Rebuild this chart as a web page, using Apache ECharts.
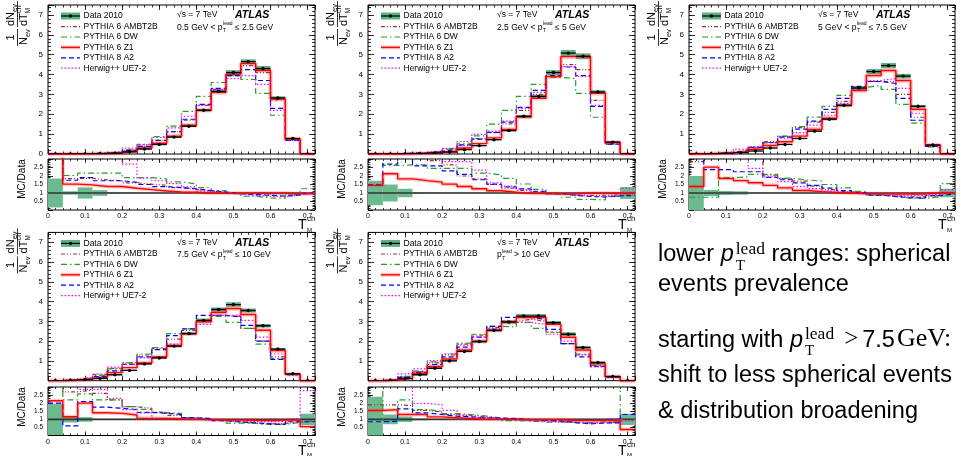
<!DOCTYPE html>
<html>
<head>
<meta charset="utf-8">
<title>Transverse thrust minor distributions</title>
<script src="https://cdn.jsdelivr.net/npm/echarts@6/dist/echarts.min.js"></script>
<style>
  html, body { margin: 0; padding: 0; background: #ffffff; }
  #chart { width: 961px; height: 456px; }
</style>
</head>
<body>
<div id="chart"></div>
<script>
// ---------- binning and labels ----------
const binEdges = [0, 0.04, 0.08, 0.12, 0.16, 0.2, 0.24, 0.28, 0.32, 0.36, 0.4, 0.44, 0.48, 0.52, 0.56, 0.6, 0.64, 0.68, 0.72];
const mcNames = ['PYTHIA 6 AMBT2B', 'PYTHIA 6 DW', 'PYTHIA 6 Z1', 'PYTHIA 8 A2', 'Herwig++ UE7-2'];
const dataName = 'Data 2010';
const rangePrefix = ['0.5 GeV < ', '2.5 GeV < ', '5 GeV < ', '7.5 GeV < ', ''];
const rangeSuffix = [' \u2264 2.5 GeV', ' \u2264 5 GeV', ' \u2264 7.5 GeV', ' \u2264 10 GeV', ' > 10 GeV'];

// ---------- 0.5 GeV < pT(lead) <= 2.5 GeV ----------
const data1 = [0, 0, 0.01, 0.02, 0.04, 0.11, 0.25, 0.48, 0.85, 1.40, 2.20, 3.15, 4.10, 4.65, 4.30, 2.82, 0.78, 0];
const err1 = [0.85, 0.10, 0.33, 0.17, 0.05, 0.04, 0.03, 0.03, 0.03, 0.03, 0.03, 0.03, 0.03, 0.025, 0.03, 0.03, 0.04, 0];
const ambt1 = [0, 0, 0.02, 0.035, 0.07, 0.18, 0.38, 0.70, 1.12, 1.70, 2.45, 3.25, 4.00, 4.45, 4.10, 2.72, 0.72, 0];
const dw1 = [0, 0, 0.02, 0.045, 0.09, 0.21, 0.48, 0.88, 1.40, 2.15, 2.90, 3.60, 3.95, 3.75, 3.05, 1.95, 0.70, 0];
const z1_1 = [0, 0, 0.015, 0.028, 0.055, 0.14, 0.30, 0.54, 0.90, 1.45, 2.20, 3.10, 4.02, 4.55, 4.20, 2.76, 0.75, 0];
const a2_1 = [0, 0, 0.019, 0.034, 0.069, 0.18, 0.38, 0.68, 1.12, 1.75, 2.50, 3.30, 3.95, 4.25, 3.70, 2.30, 0.68, 0];
const hw1 = [0, 0, 0.03, 0.06, 0.12, 0.30, 0.47, 0.83, 1.32, 1.90, 2.45, 3.25, 3.80, 3.95, 3.50, 2.20, 0.68, 0];
const rAmbt1 = [3.5, 1.85, 1.87, 1.77, 1.72, 1.60, 1.52, 1.45, 1.32, 1.21, 1.11, 1.03, 0.98, 0.96, 0.95, 0.96, 0.92, 1.0];
const rDw1 = [3.5, 2.03, 2.17, 2.17, 2.17, 1.90, 1.90, 1.83, 1.65, 1.54, 1.32, 1.14, 0.96, 0.81, 0.71, 0.69, 0.90, 1.25];
const rZ1_1 = [3.5, 1.52, 1.48, 1.38, 1.38, 1.28, 1.20, 1.12, 1.06, 1.04, 1.00, 0.98, 0.98, 0.98, 0.98, 0.98, 0.96, 0.95];
const rA2_1 = [3.5, 1.75, 1.90, 1.72, 1.72, 1.63, 1.50, 1.38, 1.32, 1.25, 1.14, 1.05, 0.96, 0.91, 0.86, 0.82, 0.87, 1.0];
const rHw1 = [3.5, 3.5, 3.5, 3.5, 3.5, 2.70, 1.87, 1.72, 1.55, 1.36, 1.11, 1.03, 0.93, 0.85, 0.81, 0.78, 0.87, 1.0];

// ---------- 2.5 GeV < pT(lead) <= 5 GeV ----------
const data2 = [0, 0, 0.01, 0.02, 0.05, 0.10, 0.22, 0.42, 0.72, 1.18, 1.90, 2.90, 4.10, 5.08, 4.92, 3.12, 0.60, 0];
const err2 = [0.72, 0.50, 0.25, 0.05, 0.04, 0.03, 0.03, 0.03, 0.03, 0.03, 0.03, 0.03, 0.03, 0.03, 0.03, 0.03, 0.05, 0.35];
const ambt2 = [0, 0, 0.04, 0.07, 0.14, 0.27, 0.44, 0.77, 1.08, 1.52, 2.20, 3.00, 3.90, 4.50, 4.25, 2.70, 0.52, 0];
const dw2 = [0, 0, 0.027, 0.053, 0.12, 0.25, 0.54, 0.91, 1.50, 2.20, 2.90, 3.50, 3.85, 3.80, 3.05, 1.85, 0.48, 0];
const z1_2 = [0, 0, 0.018, 0.035, 0.082, 0.15, 0.30, 0.52, 0.81, 1.23, 1.86, 2.80, 3.90, 4.90, 4.88, 3.05, 0.58, 0];
const a2_2 = [0, 0, 0.04, 0.052, 0.13, 0.23, 0.46, 0.75, 1.09, 1.60, 2.35, 3.20, 3.95, 4.38, 3.95, 2.40, 0.50, 0];
const hw2 = [0, 0, 0.04, 0.07, 0.15, 0.285, 0.63, 0.99, 1.15, 1.65, 2.30, 3.10, 3.90, 4.40, 3.90, 2.45, 0.52, 0];
const rAmbt2 = [3.5, 3.5, 3.5, 3.5, 2.90, 2.65, 2.00, 1.83, 1.50, 1.29, 1.16, 1.03, 0.95, 0.89, 0.86, 0.87, 0.87, 0.9];
const rDw2 = [3.5, 2.62, 2.65, 2.65, 2.45, 2.45, 2.45, 2.17, 2.07, 1.86, 1.53, 1.21, 0.94, 0.75, 0.62, 0.59, 0.80, 1.0];
const rZ1_2 = [1.45, 2.13, 1.83, 1.73, 1.64, 1.52, 1.38, 1.25, 1.13, 1.04, 0.98, 0.97, 0.95, 0.96, 0.99, 0.98, 0.97, 1.0];
const rA2_2 = [1.48, 2.70, 3.5, 2.60, 2.60, 2.30, 2.10, 1.78, 1.52, 1.36, 1.24, 1.10, 0.96, 0.86, 0.80, 0.77, 0.83, 0.85];
const rHw2 = [3.5, 3.5, 3.5, 3.5, 3.5, 2.85, 2.85, 2.35, 1.60, 1.40, 1.22, 1.07, 0.95, 0.87, 0.80, 0.79, 0.87, 1.28];

// ---------- 5 GeV < pT(lead) <= 7.5 GeV ----------
const data3 = [0, 0.01, 0.03, 0.07, 0.15, 0.30, 0.48, 0.78, 1.15, 1.75, 2.45, 3.32, 4.15, 4.45, 3.92, 2.40, 0.45, 0];
const err3 = [1.0, 0.18, 0.12, 0.10, 0.04, 0.03, 0.03, 0.03, 0.03, 0.03, 0.03, 0.03, 0.03, 0.03, 0.03, 0.03, 0.05, 0.25];
const ambt3 = [0, 0.03, 0.09, 0.18, 0.33, 0.62, 0.89, 1.33, 1.60, 2.10, 2.65, 3.35, 3.65, 3.65, 3.00, 1.85, 0.38, 0];
const dw3 = [0, 0.008, 0.057, 0.14, 0.31, 0.56, 0.90, 1.38, 1.86, 2.40, 2.95, 3.35, 3.45, 3.25, 2.50, 1.55, 0.36, 0];
const z1_3 = [0, 0.025, 0.055, 0.12, 0.24, 0.43, 0.62, 0.90, 1.24, 1.80, 2.45, 3.20, 3.95, 4.20, 3.70, 2.25, 0.45, 0];
const a2_3 = [0, 0.024, 0.071, 0.16, 0.34, 0.58, 0.85, 1.25, 1.65, 2.25, 2.80, 3.40, 3.65, 3.55, 2.80, 1.70, 0.38, 0];
const hw3 = [0, 0.04, 0.11, 0.25, 0.37, 0.58, 0.80, 1.08, 1.45, 1.95, 2.55, 3.30, 3.70, 3.80, 3.30, 2.05, 0.42, 0];
const rAmbt3 = [2.85, 3.5, 3.5, 3.5, 3.5, 2.05, 1.85, 1.70, 1.40, 1.20, 1.08, 1.01, 0.88, 0.82, 0.77, 0.77, 0.85, 1.0];
const rDw3 = [0.75, 0.75, 1.90, 1.95, 2.10, 2.10, 1.87, 1.77, 1.70, 1.50, 1.30, 1.10, 0.90, 0.79, 0.70, 0.68, 0.78, 1.55];
const rZ1_3 = [1.38, 2.52, 1.85, 1.73, 1.60, 1.45, 1.30, 1.15, 1.08, 1.03, 1.00, 0.96, 0.95, 0.94, 0.94, 0.94, 1.0, 1.0];
const rA2_3 = [3.5, 2.38, 2.38, 2.25, 2.25, 1.92, 1.78, 1.60, 1.45, 1.29, 1.14, 1.02, 0.88, 0.80, 0.72, 0.71, 0.84, 0.95];
const rHw3 = [3.5, 3.5, 3.5, 3.5, 2.45, 1.95, 1.67, 1.38, 1.26, 1.11, 1.04, 0.99, 0.89, 0.85, 0.84, 0.85, 0.93, 1.2];

// ---------- 7.5 GeV < pT(lead) <= 10 GeV ----------
const data4 = [0, 0.02, 0.05, 0.12, 0.30, 0.52, 0.85, 1.15, 1.75, 2.38, 3.05, 3.60, 3.85, 3.55, 2.78, 1.60, 0.35, 0];
const err4 = [0.97, 0.20, 0.15, 0.04, 0.03, 0.03, 0.03, 0.03, 0.03, 0.03, 0.03, 0.03, 0.03, 0.03, 0.03, 0.03, 0.05, 0.35];
const ambt4 = [0, 0.054, 0.14, 0.31, 0.62, 0.91, 1.30, 1.62, 2.10, 2.55, 3.00, 3.30, 3.25, 2.65, 2.00, 1.20, 0.30, 0];
const dw4 = [0, 0.044, 0.13, 0.26, 0.60, 0.90, 1.35, 1.68, 2.38, 2.62, 3.05, 3.25, 2.95, 2.65, 1.85, 1.12, 0.30, 0];
const z1_4 = [0, 0.023, 0.10, 0.17, 0.41, 0.66, 0.90, 1.20, 1.78, 2.38, 2.98, 3.45, 3.65, 3.35, 2.55, 1.52, 0.33, 0];
const a2_4 = [0, 0.012, 0.105, 0.21, 0.50, 0.83, 1.20, 1.57, 2.28, 2.62, 3.30, 3.30, 3.22, 2.80, 2.00, 1.08, 0.30, 0];
const hw4 = [0, 0.07, 0.15, 0.34, 0.69, 0.83, 1.15, 1.25, 1.85, 2.40, 2.85, 3.30, 3.32, 3.05, 2.20, 1.35, 0.30, 0];
const rAmbt4 = [3.5, 2.70, 2.80, 2.60, 2.20, 1.78, 1.68, 1.45, 1.25, 1.07, 0.98, 0.92, 0.85, 0.75, 0.72, 0.75, 0.85, 0.9];
const rDw4 = [3.5, 2.20, 2.57, 2.20, 2.20, 1.78, 1.62, 1.41, 1.37, 1.10, 1.00, 0.90, 0.77, 0.75, 0.67, 0.70, 0.80, 0.9];
const rZ1_4 = [2.15, 1.16, 2.00, 1.41, 1.37, 1.27, 1.06, 1.05, 1.02, 1.00, 0.98, 0.96, 0.95, 0.94, 0.92, 0.95, 0.95, 0.55];
const rA2_4 = [2.00, 0.60, 2.10, 1.75, 1.68, 1.60, 1.43, 1.37, 1.30, 1.10, 1.05, 0.92, 0.84, 0.79, 0.72, 0.68, 0.85, 0.85];
const rHw4 = [3.5, 3.5, 2.85, 2.85, 2.30, 1.60, 1.40, 1.06, 1.05, 1.00, 0.95, 0.90, 0.88, 0.86, 0.85, 0.88, 0.85, 2.77];

// ---------- pT(lead) > 10 GeV ----------
const data5 = [0, 0.02, 0.10, 0.30, 0.63, 1.00, 1.48, 1.98, 2.55, 2.97, 3.27, 3.27, 2.93, 2.35, 1.68, 0.92, 0.22, 0];
const err5 = [1.4, 0.30, 0.17, 0.05, 0.04, 0.03, 0.03, 0.03, 0.03, 0.03, 0.03, 0.03, 0.03, 0.04, 0.04, 0.04, 0.06, 0.35];
const ambt5 = [0, 0.04, 0.185, 0.46, 0.90, 1.30, 1.85, 2.30, 2.70, 3.00, 3.10, 3.00, 2.45, 1.88, 1.30, 0.72, 0.18, 0];
const dw5 = [0, 0.018, 0.22, 0.48, 0.95, 1.35, 1.90, 2.35, 2.75, 2.72, 2.95, 2.65, 2.45, 1.88, 1.35, 0.78, 0.19, 0];
const z1_5 = [0, 0.032, 0.13, 0.38, 0.72, 1.10, 1.55, 2.00, 2.55, 2.95, 3.20, 3.20, 2.85, 2.20, 1.55, 0.85, 0.20, 0];
const a2_5 = [0, 0.018, 0.165, 0.42, 0.82, 1.20, 1.70, 2.20, 2.75, 3.20, 3.20, 3.10, 2.60, 1.88, 1.20, 0.72, 0.17, 0];
const hw5 = [0, 0.07, 0.35, 0.60, 1.02, 1.35, 1.80, 2.20, 2.65, 2.95, 2.95, 2.85, 2.35, 2.00, 1.32, 0.70, 0.20, 0];
const rAmbt5 = [1.90, 1.90, 1.85, 1.55, 1.45, 1.30, 1.25, 1.15, 1.05, 1.00, 0.95, 0.92, 0.85, 0.80, 0.78, 0.78, 0.80, 1.0];
const rDw5 = [3.5, 0.90, 2.20, 1.60, 1.50, 1.35, 1.30, 1.20, 1.08, 0.92, 0.90, 0.82, 0.85, 0.80, 0.80, 0.85, 0.85, 3.5];
const rZ1_5 = [1.55, 1.60, 1.30, 1.30, 1.15, 1.10, 1.05, 1.00, 1.00, 0.99, 0.98, 0.98, 0.97, 0.93, 0.92, 0.92, 0.90, 0.37];
const rA2_5 = [0.85, 0.88, 1.65, 1.40, 1.30, 1.20, 1.15, 1.10, 1.08, 1.05, 0.98, 0.95, 0.90, 0.80, 0.72, 0.78, 0.78, 1.30];
const rHw5 = [3.5, 3.5, 3.5, 1.98, 1.90, 1.55, 1.25, 1.10, 1.05, 1.00, 0.90, 0.87, 0.82, 0.85, 0.78, 0.80, 1.05, 0.9];

const panels = [
  { data: data1, err: err1, mc: [ambt1, dw1, z1_1, a2_1, hw1], ratio: [rAmbt1, rDw1, rZ1_1, rA2_1, rHw1] },
  { data: data2, err: err2, mc: [ambt2, dw2, z1_2, a2_2, hw2], ratio: [rAmbt2, rDw2, rZ1_2, rA2_2, rHw2] },
  { data: data3, err: err3, mc: [ambt3, dw3, z1_3, a2_3, hw3], ratio: [rAmbt3, rDw3, rZ1_3, rA2_3, rHw3] },
  { data: data4, err: err4, mc: [ambt4, dw4, z1_4, a2_4, hw4], ratio: [rAmbt4, rDw4, rZ1_4, rA2_4, rHw4] },
  { data: data5, err: err5, mc: [ambt5, dw5, z1_5, a2_5, hw5], ratio: [rAmbt5, rDw5, rZ1_5, rA2_5, rHw5] }
];

// ---------- styling and frame placement ----------
const SANS = '"Liberation Sans", Arial, Helvetica, sans-serif';
const SERIF = '"Liberation Serif", "Times New Roman", serif';
const BAND = '#6cbb90';
const BAND_MAIN = '#5cb285';
const mcStyles = [
  { color: '#9b3434', width: 1.2, dash: [4, 2, 1, 2, 1, 2] },
  { color: '#22a022', width: 1.2, dash: [6, 3, 1.5, 3] },
  { color: '#ff0000', width: 1.4, dash: null },
  { color: '#0000ff', width: 1.2, dash: [5, 3] },
  { color: '#ff00ff', width: 1.2, dash: [1.5, 2] }
];
const frames = [
  { left: 48, width: 267, top: 5, height: 149, rTop: 159, rHeight: 51 },
  { left: 368, width: 267, top: 5, height: 149, rTop: 159, rHeight: 51 },
  { left: 689, width: 266, top: 5, height: 149, rTop: 159, rHeight: 51 },
  { left: 48, width: 267, top: 232.4, height: 148.3, rTop: 387, rHeight: 48.5 },
  { left: 368, width: 267, top: 232.4, height: 148.3, rTop: 387, rHeight: 48.5 }
];

// ---------- text layout helpers ----------
const mctx = document.createElement('canvas').getContext('2d');
function fontOf(pt) {
  return (pt.italic ? 'italic ' : '') + (pt.bold ? 'bold ' : '') + pt.size + 'px ' + (pt.family || SANS);
}
function textEl(x, y, text, size, o) {
  o = o || {};
  return {
    type: 'text', x: x, y: y, silent: true,
    style: {
      text: text, fontSize: size, fontFamily: o.family || SANS,
      fontStyle: o.italic ? 'italic' : 'normal', fontWeight: o.bold ? 'bold' : 'normal',
      fill: o.fill || '#000', align: 'left', verticalAlign: 'middle',
      textAlign: 'left', textVerticalAlign: 'middle'
    }
  };
}
// Lays out runs of text along a common baseline; a run may stack a superscript over a subscript.
function runText(out, x, base, runs) {
  let cx = x;
  runs.forEach(function (r) {
    const parts = r.stack || [r];
    let w = 0;
    parts.forEach(function (pt) {
      out.push(textEl(cx, base + (pt.dy || 0) - 0.345 * pt.size, pt.text, pt.size,
        { family: pt.family, italic: pt.italic, bold: pt.bold }));
      mctx.font = fontOf(pt);
      w = Math.max(w, mctx.measureText(pt.text).width);
    });
    cx += w + (r.gap || 0);
  });
  return cx;
}
function textWidth(pt) { mctx.font = fontOf(pt); return mctx.measureText(pt.text).width; }

// ---------- axes ----------
function makeAxes(dim, gridIndex, cfg) {
  const positions = dim === 'x' ? ['bottom', 'top'] : ['left', 'right'];
  const out = [];
  positions.forEach(function (pos, k) {
    [[cfg.major, cfg.majorLen, k === 0 ? cfg.label : null], [cfg.minor, cfg.minorLen, null]].forEach(function (spec) {
      out.push({
        type: 'value', gridIndex: gridIndex, position: pos,
        min: cfg.min, max: cfg.max, interval: spec[0],
        axisLine: { show: false, onZero: false },
        splitLine: { show: false },
        axisTick: { show: true, inside: true, length: spec[1], lineStyle: { color: '#000', width: 0.8 } },
        axisLabel: spec[2] ? Object.assign({ show: true, color: '#000', fontFamily: SANS }, spec[2]) : { show: false },
        axisPointer: { show: false },
        silent: true
      });
    });
  });
  return out;
}
function isMult(v, step) { return Math.abs(v / step - Math.round(v / step)) < 1e-6; }

// ---------- series builders ----------
function stepSeries(xi, yi, values, style, z, extra) {
  const pts = binEdges.map(function (e, i) { return [e, values[Math.min(i, values.length - 1)]]; });
  return Object.assign({
    type: 'line', xAxisIndex: xi, yAxisIndex: yi, step: 'end', data: pts,
    symbol: 'none', silent: true, clip: true, z: z,
    lineStyle: { color: style.color, width: style.width, type: style.dash || 'solid' }
  }, extra || {});
}
function bandSeries(xi, yi, lows, highs, color) {
  return {
    type: 'custom', xAxisIndex: xi, yAxisIndex: yi, silent: true, clip: true, z: 1,
    data: lows.map(function (lo, i) { return [binEdges[i], binEdges[i + 1], lo, highs[i]]; }),
    encode: { x: [0, 1], y: [2, 3] },
    renderItem: function (params, api) {
      const a = api.coord([api.value(0), api.value(3)]);
      const b = api.coord([api.value(1), api.value(2)]);
      return { type: 'rect', shape: { x: a[0], y: a[1], width: b[0] - a[0], height: b[1] - a[1] }, style: { fill: color } };
    }
  };
}
function dataSeries(xi, yi, values) {
  return {
    type: 'custom', xAxisIndex: xi, yAxisIndex: yi, silent: true, clip: true, z: 10,
    data: values.map(function (v, i) { return [binEdges[i], binEdges[i + 1], v]; }),
    encode: { x: [0, 1], y: 2 },
    renderItem: function (params, api) {
      const a = api.coord([api.value(0), api.value(2)]);
      const b = api.coord([api.value(1), api.value(2)]);
      return {
        type: 'group', children: [
          { type: 'line', shape: { x1: a[0], y1: a[1], x2: b[0], y2: b[1] }, style: { stroke: '#000', lineWidth: 1.3 } },
          { type: 'circle', shape: { cx: (a[0] + b[0]) / 2, cy: a[1], r: 1.7 }, style: { fill: '#000' } }
        ]
      };
    }
  };
}

// ---------- assemble ----------
const grids = [], xAxes = [], yAxes = [], series = [], graphics = [];

frames.forEach(function (F, p) {
  const P = panels[p];
  const gMain = grids.length;
  grids.push({ left: F.left, top: F.top, width: F.width, height: F.height, show: true, borderColor: '#000', borderWidth: 1, backgroundColor: 'transparent' });
  grids.push({ left: F.left, top: F.rTop, width: F.width, height: F.rHeight, show: true, borderColor: '#000', borderWidth: 1, backgroundColor: 'transparent' });
  const gRatio = gMain + 1;

  const xMainBase = xAxes.length;
  xAxes.push.apply(xAxes, makeAxes('x', gMain, { min: 0, max: 0.72, major: 0.1, minor: 0.02, majorLen: 5, minorLen: 2.5, label: null }));
  const xRatioBase = xAxes.length;
  xAxes.push.apply(xAxes, makeAxes('x', gRatio, {
    min: 0, max: 0.72, major: 0.1, minor: 0.02, majorLen: 4, minorLen: 2,
    label: { fontSize: 7, margin: 3, formatter: function (v) { return (isMult(v, 0.1) && v < 0.705) ? (v < 0.05 ? '0' : v.toFixed(1)) : ''; } }
  }));
  const yMainBase = yAxes.length;
  yAxes.push.apply(yAxes, makeAxes('y', gMain, {
    min: 0, max: 7.5, major: 1, minor: 0.2, majorLen: 6, minorLen: 3,
    label: { fontSize: 8, margin: 5, formatter: function (v) { return (isMult(v, 1) && (v > 0.5 || p === 0) && v < 7.4) ? String(Math.round(v)) : ''; } }
  }));
  const yRatioBase = yAxes.length;
  yAxes.push.apply(yAxes, makeAxes('y', gRatio, {
    min: 0, max: 3, major: 0.5, minor: 0.1, majorLen: 5, minorLen: 2.5,
    label: { fontSize: 6.5, margin: 5, formatter: function (v) { return (v > 0.1 && v < 2.9) ? String(v) : ''; } }
  }));

  // main distribution
  series.push(bandSeries(xMainBase, yMainBase,
    P.data.map(function (v, i) { return v * (1 - P.err[i]); }),
    P.data.map(function (v, i) { return v * (1 + P.err[i]); }), BAND_MAIN));
  series.push(stepSeries(xMainBase, yMainBase, P.mc[2], { color: 'rgba(255,60,60,0.28)', width: 4.5 }, 2));
  P.mc.forEach(function (vals, k) {
    series.push(stepSeries(xMainBase, yMainBase, vals, mcStyles[k], k === 2 ? 6 : 3 + k * 0.1));
  });
  series.push(dataSeries(xMainBase, yMainBase, P.data));

  // MC / data ratio
  series.push(bandSeries(xRatioBase, yRatioBase,
    P.err.map(function (e) { return 1 - e; }),
    P.err.map(function (e) { return 1 + e; }), BAND));
  series.push({
    type: 'line', xAxisIndex: xRatioBase, yAxisIndex: yRatioBase, silent: true, symbol: 'none', z: 2,
    data: [[binEdges[0], 1], [binEdges[binEdges.length - 1], 1]],
    lineStyle: { color: '#333333', width: 1.6 }
  });
  series.push(stepSeries(xRatioBase, yRatioBase, P.ratio[2], { color: 'rgba(255,60,60,0.28)', width: 4 }, 3));
  P.ratio.forEach(function (vals, k) {
    series.push(stepSeries(xRatioBase, yRatioBase, vals, mcStyles[k], k === 2 ? 6 : 4 + k * 0.1));
  });

  // legend
  const L = F.left, T = F.top;
  graphics.push({ type: 'rect', silent: true, shape: { x: L + 13, y: T + 7.5, width: 19, height: 7 }, style: { fill: BAND_MAIN } });
  graphics.push({ type: 'line', silent: true, shape: { x1: L + 13, y1: T + 11, x2: L + 32, y2: T + 11 }, style: { stroke: '#000', lineWidth: 1.2 } });
  graphics.push({ type: 'circle', silent: true, shape: { cx: L + 22.5, cy: T + 11, r: 1.7 }, style: { fill: '#000' } });
  runText(graphics, L + 35.5, T + 14, [{ text: dataName, size: 8.5 }]);
  mcNames.forEach(function (name, k) {
    const y = T + 21.6 + 10.4 * k;
    const st = mcStyles[k];
    if (k === 2) {
      graphics.push({ type: 'line', silent: true, shape: { x1: L + 13, y1: y, x2: L + 32, y2: y }, style: { stroke: 'rgba(255,60,60,0.3)', lineWidth: 4 } });
    }
    graphics.push({ type: 'line', silent: true, shape: { x1: L + 13, y1: y, x2: L + 32, y2: y }, style: { stroke: st.color, lineWidth: st.width, lineDash: st.dash || null } });
    runText(graphics, L + 35.5, y + 3, [{ text: name, size: 8.5 }]);
  });

  // energy, experiment and pT(lead) range
  runText(graphics, L + 129, T + 13, [{ text: '\u221As = 7 TeV', size: 8.5 }]);
  runText(graphics, L + 187, T + 14, [{ text: 'ATLAS', size: 10.5, bold: true, italic: true }]);
  runText(graphics, L + 129, T + 25.5, [
    { text: rangePrefix[p] + 'p', size: 8.5, gap: 0.5 },
    { stack: [{ text: 'lead', size: 5, dy: -5 }, { text: 'T', size: 5, dy: 2 }] },
    { text: rangeSuffix[p], size: 8.5 }
  ]);

  // y-axis title of the distribution, written bottom-to-top
  const yl = [];
  runText(yl, 5.5, -2.5, [{ text: '1', size: 11 }]);
  yl.push({ type: 'line', silent: true, shape: { x1: 0, y1: 0, x2: 17, y2: 0 }, style: { stroke: '#000', lineWidth: 0.8 } });
  runText(yl, 1, 10.5, [{ text: 'N', size: 11 }, { text: 'ev', size: 7.5, dy: 2.5 }]);
  runText(yl, 20, -2.5, [{ text: 'dN', size: 11 }, { text: 'ev', size: 7.5, dy: 2.5 }]);
  yl.push({ type: 'line', silent: true, shape: { x1: 19, y1: 0, x2: 45, y2: 0 }, style: { stroke: '#000', lineWidth: 0.8 } });
  runText(yl, 20, 10.5, [{ text: 'dT', size: 11 }, { stack: [{ text: 'ch', size: 7.5, dy: -6 }, { text: 'M', size: 6.5, dy: 2.5 }] }]);
  graphics.push({ type: 'group', x: L - 30.5, y: T + 41, rotation: Math.PI / 2, silent: true, children: yl });

  // y-axis title of the ratio
  const rl = [];
  const w = textWidth({ text: 'MC/Data', size: 10 });
  runText(rl, -w / 2, 0, [{ text: 'MC/Data', size: 10 }]);
  graphics.push({ type: 'group', x: L - 22, y: F.rTop + 20, rotation: Math.PI / 2, silent: true, children: rl });

  // x-axis title
  runText(graphics, L + F.width - 17, F.rTop + F.rHeight + 20, [
    { text: 'T', size: 14, gap: 0.5 },
    { stack: [{ text: 'ch', size: 8, dy: -8 }, { text: 'M', size: 6, dy: 2 }] }
  ]);
});

// ---------- commentary beside the plots ----------
const NOTE = 23.5;
runText(graphics, 658, 263, [
  { text: 'lower ', size: NOTE },
  { text: 'p', size: NOTE, italic: true, gap: 2 },
  { stack: [{ text: 'lead', size: 17.5, family: SERIF, dy: -8 }, { text: 'T', size: 15, family: SERIF, dy: 8 }] },
  { text: ' ranges: spherical', size: NOTE }
]);
runText(graphics, 658, 293, [{ text: 'events prevalence', size: NOTE }]);
runText(graphics, 658, 348.5, [
  { text: 'starting with ', size: NOTE },
  { text: 'p', size: NOTE, italic: true, gap: 2 },
  { stack: [{ text: 'lead', size: 17.5, family: SERIF, dy: -8 }, { text: 'T', size: 15, family: SERIF, dy: 8 }], gap: 10 },
  { text: '>', size: 25, family: SERIF, gap: 4 },
  { text: '7.5', size: NOTE, gap: 2 },
  { text: 'GeV:', size: 26, family: SERIF }
]);
runText(graphics, 658, 384, [{ text: 'shift to less spherical events', size: NOTE }]);
runText(graphics, 658, 420, [{ text: '& distribution broadening', size: NOTE }]);

const chart = echarts.init(document.getElementById('chart'), null, { renderer: 'canvas', width: 961, height: 456 });
chart.setOption({
  animation: false,
  backgroundColor: '#ffffff',
  textStyle: { fontFamily: SANS },
  grid: grids,
  xAxis: xAxes,
  yAxis: yAxes,
  series: series,
  graphic: { elements: graphics }
});
</script>
</body>
</html>
